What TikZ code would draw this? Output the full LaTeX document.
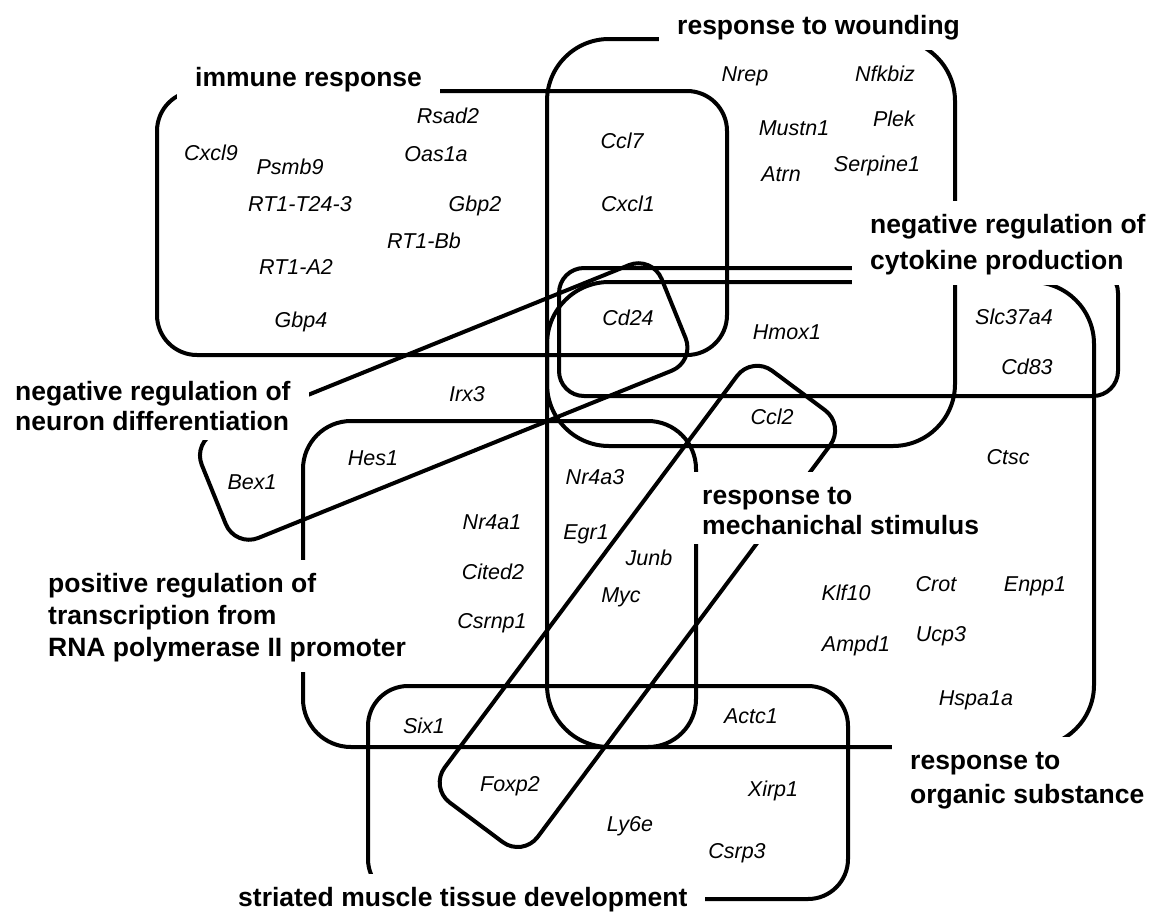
\documentclass[tikz,border=0pt]{standalone}
\usepackage{fontspec}
\setmainfont{Liberation Sans}
\newcommand\labfont[1]{\bfseries\fontsize{26.5pt}{#1pt}\selectfont}
\newcommand\genefont{\itshape\fontsize{21.5pt}{24pt}\selectfont}
\newcommand\fstrut{\rule{0pt}{22pt}}
\begin{document}
\begin{tikzpicture}[x=1pt,y=-1pt,
  gset/.style={line width=4pt, draw=black},
  setlabel/.style={fill=white, inner xsep=18pt, inner ysep=10pt, align=left, anchor=north west},
  gene/.style={font=\genefont, inner sep=0pt, anchor=base}]
\useasboundingbox (0,0) rectangle (1153,913);

% gene set outlines
\draw[gset, rounded corners=40pt] (157,91) rectangle (727,355);   % immune response
\draw[gset, rounded corners=62pt] (547,39) rectangle (955,446);   % response to wounding
\draw[gset, rounded corners=25pt] (559,268) rectangle (1118,396); % cytokine production
\draw[gset, rounded corners=62pt] (547,282) rectangle (1094,747); % organic substance
\draw[gset, rounded corners=48pt] (303,421) rectangle (696,747);  % transcription
\draw[gset, rounded corners=40pt] (368,686) rectangle (848,899);  % muscle development
\draw[gset, rounded corners=25pt] (192.4,441.7) -- (235.2,547.3) -- (695.0,361.3) -- (652.2,255.7) -- cycle; % neuron differentiation
\draw[gset, rounded corners=25pt] (752.1,355.8) -- (845.1,425.2) -- (522.7,857.0) -- (429.7,787.6) -- cycle; % mechanical stimulus

% set names
\node[setlabel, font=\labfont{32}] (lImmune) at (177,54) {\fstrut immune response};
\node[setlabel, font=\labfont{32}] (lWound) at (659,2) {\fstrut response to wounding};
\node[setlabel, font=\labfont{36}] (lCyto) at (852,201) {\fstrut negative regulation of\\cytokine production};
\node[setlabel, font=\labfont{30}] (lNeuron) at (-3,368) {\fstrut negative regulation of\\neuron differentiation};
\node[setlabel, font=\labfont{32}] (lTransc) at (30,560) {\fstrut positive regulation of\\transcription from\\RNA polymerase II promoter};
\node[setlabel, font=\labfont{30}] (lMech) at (684,472) {\fstrut response to\\mechanichal stimulus};
\node[setlabel, font=\labfont{34}] (lOrganic) at (892,737) {\fstrut response to\\organic substance};
\node[setlabel, font=\labfont{32}] (lMuscle) at (220,874) {\fstrut striated muscle tissue development};

% genes
\node[gene] (gCxcl9) at (211,160) {Cxcl9};
\node[gene] (gPsmb9) at (290,174) {Psmb9};
\node[gene] (gRTa) at (300,211) {RT1-T24-3};
\node[gene] (gRTb) at (296,274) {RT1-A2};
\node[gene] (gGbp4) at (301,327) {Gbp4};
\node[gene] (gRsad2) at (448,123) {Rsad2};
\node[gene] (gOas1a) at (436,161) {Oas1a};
\node[gene] (gGbp2) at (475,211) {Gbp2};
\node[gene] (gRTc) at (424,248) {RT1-Bb};
\node[gene] (gCcl7) at (622,148) {Ccl7};
\node[gene] (gCxcl1) at (628,211) {Cxcl1};
\node[gene] (gCd24) at (628,325) {Cd24};
\node[gene] (gNrep) at (745,81) {Nrep};
\node[gene] (gNfkbiz) at (885,81) {Nfkbiz};
\node[gene] (gMustn1) at (794,135) {Mustn1};
\node[gene] (gPlek) at (894,126) {Plek};
\node[gene] (gAtrn) at (781,181) {Atrn};
\node[gene] (gSerpine1) at (877,171) {Serpine1};
\node[gene] (gHmox1) at (787,339) {Hmox1};
\node[gene] (gSlc) at (1014,324) {Slc37a4};
\node[gene] (gCd83) at (1027,374) {Cd83};
\node[gene] (gCcl2) at (772,424) {Ccl2};
\node[gene] (gIrx3) at (467,401) {Irx3};
\node[gene] (gBex1) at (252,489) {Bex1};
\node[gene] (gHes1) at (373,465) {Hes1};
\node[gene] (gNr4a3) at (595,484) {Nr4a3};
\node[gene] (gNr4a1) at (492,529) {Nr4a1};
\node[gene] (gEgr1) at (586,539) {Egr1};
\node[gene] (gJunb) at (649,565) {Junb};
\node[gene] (gCited2) at (493,579) {Cited2};
\node[gene] (gMyc) at (621,602) {Myc};
\node[gene] (gCsrnp1) at (492,628) {Csrnp1};
\node[gene] (gCtsc) at (1008,464) {Ctsc};
\node[gene] (gKlf10) at (846,600) {Klf10};
\node[gene] (gCrot) at (936,591) {Crot};
\node[gene] (gEnpp1) at (1035,591) {Enpp1};
\node[gene] (gAmpd1) at (856,651) {Ampd1};
\node[gene] (gUcp3) at (941,641) {Ucp3};
\node[gene] (gHspa1a) at (976,705) {Hspa1a};
\node[gene] (gSix1) at (424,733) {Six1};
\node[gene] (gActc1) at (751,723) {Actc1};
\node[gene] (gFoxp2) at (510,791) {Foxp2};
\node[gene] (gXirp1) at (773,796) {Xirp1};
\node[gene] (gLy6e) at (630,831) {Ly6e};
\node[gene] (gCsrp3) at (737,858) {Csrp3};
\end{tikzpicture}
\end{document}
